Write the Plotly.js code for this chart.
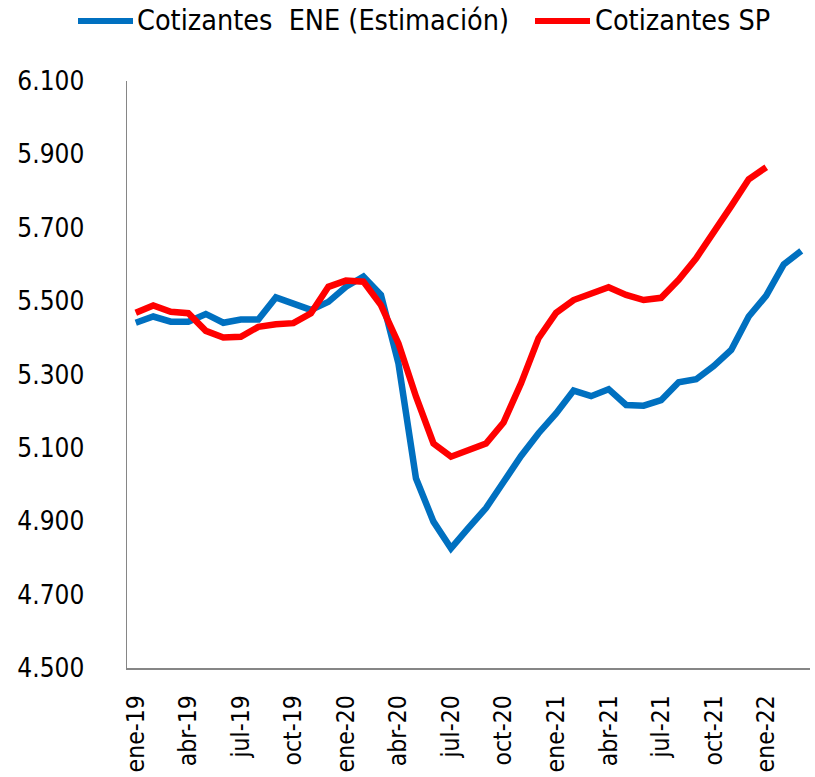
<!DOCTYPE html>
<html>
<head>
<meta charset="utf-8">
<script src="https://cdn.plot.ly/plotly-3.0.1.min.js"></script>
<style>html,body{margin:0;padding:0;background:#fff;}#chart{width:815px;height:777px;}</style>
</head>
<body>
<div id="chart"></div>
<script>
const months = ["ene-19","feb-19","mar-19","abr-19","may-19","jun-19","jul-19","ago-19","sep-19","oct-19","nov-19","dic-19",
  "ene-20","feb-20","mar-20","abr-20","may-20","jun-20","jul-20","ago-20","sep-20","oct-20","nov-20","dic-20",
  "ene-21","feb-21","mar-21","abr-21","may-21","jun-21","jul-21","ago-21","sep-21","oct-21","nov-21","dic-21",
  "ene-22","feb-22","mar-22"];
const tickLabels = ["ene-19","abr-19","jul-19","oct-19","ene-20","abr-20","jul-20","oct-20","ene-21","abr-21","jul-21","oct-21","ene-22"];
const cotizantesENE = [5441,5458,5444,5444,5465,5441,5450,5450,5510,5492,5476,5498,
  5539,5567,5517,5330,5017,4899,4826,4882,4936,5007,5078,5140,
  5194,5256,5241,5260,5217,5215,5230,5279,5287,5323,5367,5458,
  5515,5600,5637];
const cotizantesSP = [5468,5488,5471,5467,5419,5401,5403,5430,5437,5440,5467,5539,
  5556,5553,5489,5385,5240,5112,5076,5094,5112,5169,5276,5399,
  5468,5503,5521,5538,5517,5503,5509,5558,5617,5685,5759,5832,
  5865];
const yTicks = [4500,4700,4900,5100,5300,5500,5700,5900,6100];
const seriesNames = ['Cotizantes\u00a0\u00a0ENE (Estimación)', 'Cotizantes SP'];
const seriesColors = ['#0070C0', '#FF0000'];

const FONT = '"DejaVu Sans Condensed", "DejaVu Sans", sans-serif';

// plot-area geometry (px)
const M = {l:127, r:5, t:81, b:109};
const W = 815, H = 777;
const PW = W - M.l - M.r, PH = H - M.t - M.b;
const px2x = p => (p - M.l) / PW;
const py2y = p => 1 + (M.t - p) / PH;

const traces = [
  {x: months.slice(0, cotizantesENE.length), y: cotizantesENE, type:'scatter', mode:'lines',
   name:seriesNames[0], line:{color:seriesColors[0], width:6.5}},
  {x: months.slice(0, cotizantesSP.length), y: cotizantesSP, type:'scatter', mode:'lines',
   name:seriesNames[1], line:{color:seriesColors[1], width:6.5}}
];

// manual legend (single row, as in the reference)
const legendY = py2y(21);
const legendItems = [{lx0:78, lx1:133, tx:135}, {lx0:535, lx1:590, tx:593}];
const shapes = legendItems.map((it, i) => ({
  type:'line', xref:'paper', yref:'paper', x0:px2x(it.lx0), x1:px2x(it.lx1), y0:legendY, y1:legendY,
  line:{color:seriesColors[i], width:6}
}));
const annotations = legendItems.map((it, i) => ({
  xref:'paper', yref:'paper', x:px2x(it.tx), y:legendY, xanchor:'left', yanchor:'middle',
  text:seriesNames[i], showarrow:false, font:{family:FONT, size:28.5, color:'#000'}
}));

const layout = {
  width:W, height:H,
  margin:M,
  paper_bgcolor:'#fff', plot_bgcolor:'#fff',
  separators:',.',
  font:{family:FONT, size:26, color:'#000'},
  showlegend:false,
  shapes, annotations,
  xaxis:{type:'category', categoryorder:'array', categoryarray:months, range:[-0.5, 38.5],
         tickmode:'array', tickvals:tickLabels, ticktext:tickLabels, tickangle:-90,
         showgrid:false, zeroline:false, showline:true, linecolor:'#868686', linewidth:1.5,
         ticks:'outside', ticklen:16, tickcolor:'rgba(0,0,0,0)',
         tickfont:{family:FONT, size:24.5, color:'#000'}},
  yaxis:{range:[4500,6100], tickmode:'array', tickvals:yTicks, tickformat:',.0f',
         showgrid:false, zeroline:false, showline:true, linecolor:'#868686', linewidth:1.5,
         ticks:'outside', ticklen:36, tickcolor:'rgba(0,0,0,0)',
         tickfont:{family:FONT, size:26, color:'#000'}}
};

Plotly.newPlot('chart', traces, layout, {displayModeBar:false, staticPlot:true});
</script>
</body>
</html>
